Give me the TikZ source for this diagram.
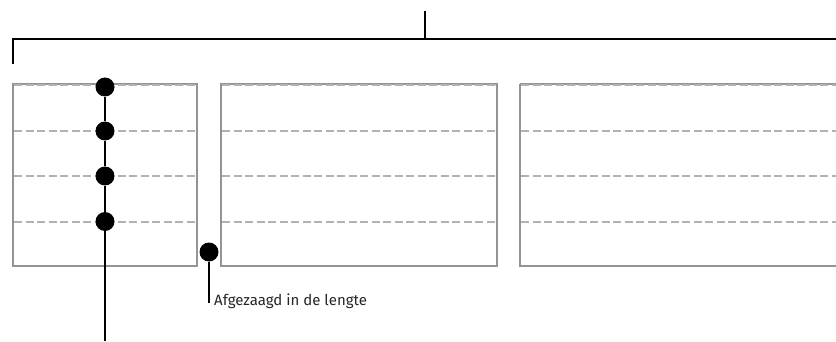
\documentclass[tikz,border=0pt]{standalone}
\usepackage{fontspec}
\setmainfont{Fira Sans}
\begin{document}
\begin{tikzpicture}[x=1pt,y=-1pt,
  boxedge/.style={draw=black!42,line width=1.8pt},
  cutline/.style={draw=black!30,line width=1.9pt,dash pattern=on 8pt off 3.5pt},
  dot/.style={circle,fill=black,inner sep=0pt,minimum size=19pt},
  lead/.style={draw=black,line width=1.3pt},
  bracket/.style={draw=black,line width=1.4pt},
  lbl/.style={font=\fontsize{15}{17}\selectfont,text=black!85,anchor=base west,inner sep=0pt}]
\useasboundingbox (0,0) rectangle (836,342);
% boxes
\draw[boxedge] (13,84) rectangle (197,266);
\draw[boxedge] (221,84) rectangle (497,266);
\draw[boxedge] (520,84) -- (850,84) (520,84) -- (520,266) -- (850,266);
% dashed cut lines
\foreach \y in {85,131,176,222} {
  \draw[cutline] (14,\y) -- (196,\y);
  \draw[cutline] (222,\y) -- (496,\y);
  \draw[cutline] (521,\y) -- (850,\y);
}
% bracket
\coordinate (bl) at (13,64);
\coordinate (bc) at (13,39);
\coordinate (br) at (840,39);
\coordinate (tm) at (425,39);
\coordinate (tt) at (425,11);
\draw[bracket] (bl) -- (bc) -- (br);
\draw[bracket] (tm) -- (tt);
% dots on first box
\node[dot] (d1) at (105,87) {};
\node[dot] (d2) at (105,131) {};
\node[dot] (d3) at (105,176) {};
\node[dot] (d4) at (105,221.5) {};
\coordinate (dend) at (105,341);
\draw[lead] (d1) -- (d2) -- (d3) -- (d4) -- (dend);
% gap dot
\node[dot] (g) at (209,252) {};
\coordinate (gend) at (209,303);
\draw[lead] (g) -- (gend);
\node[lbl] (t) at (214,305) {Afgezaagd in de lengte};
\end{tikzpicture}
\end{document}
